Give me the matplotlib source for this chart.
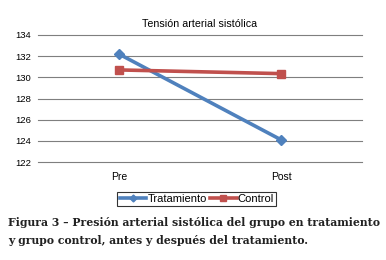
import matplotlib
matplotlib.use("Agg")
import matplotlib.pyplot as plt

# Datos
categorias = ["Pre", "Post"]
tratamiento = [132.2, 124.1]
control = [130.7, 130.35]
y_ticks = [122, 124, 126, 128, 130, 132, 134]

plt.rcParams['font.family'] = 'Liberation Sans'

fig = plt.figure(figsize=(3.86, 2.60), dpi=100)
ax = fig.add_axes([38 / 386, 1 - 162 / 260, (362 - 38) / 386, (162 - 35) / 260])

x = range(len(categorias))
ax.plot(x, tratamiento, color='#4F81BD', linewidth=2.6, marker='D', markersize=5,
        label='Tratamiento', zorder=3)
ax.plot(x, control, color='#C0504D', linewidth=2.6, marker='s', markersize=5.5,
        label='Control', zorder=3)

ax.set_xlim(-0.5, 1.5)
ax.set_ylim(122, 134)
ax.set_yticks(y_ticks)
ax.set_xticks(list(x))
ax.set_xticklabels(categorias, fontsize=7.5)
ax.tick_params(axis='y', labelsize=6.8, length=0, pad=5)
ax.tick_params(axis='x', length=0, pad=7)
for yv in y_ticks:
    ax.axhline(yv, color='#7f7f7f', linewidth=0.8, zorder=1, clip_on=False)
for s in ax.spines.values():
    s.set_visible(False)

ax.set_title("Tensión arterial sistólica", fontsize=7.7, pad=6)

leg = ax.legend(loc='upper center', bbox_to_anchor=(0.49, -0.19), ncol=2,
                fontsize=8, frameon=True, fancybox=False, edgecolor='black',
                handlelength=2.4, handletextpad=0.1, columnspacing=0.3,
                borderpad=0.2, markerscale=0.7)
leg.get_frame().set_linewidth(0.8)

fig.text(8 / 386, 1 - 222 / 260, "Figura 3 – Presión arterial sistólica del grupo en tratamiento",
         fontsize=7.85, family='DejaVu Serif', weight='bold', va='center', color='#222222')
fig.text(8 / 386, 1 - 240 / 260, "y grupo control, antes y después del tratamiento.",
         fontsize=7.85, family='DejaVu Serif', weight='bold', va='center', color='#222222')

fig.savefig("out.png", dpi=100)
